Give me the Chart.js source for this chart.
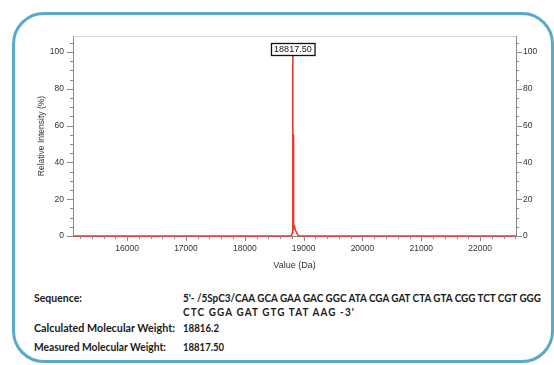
<!DOCTYPE html>
<html>
<head>
<meta charset="utf-8">
<script src="https://cdn.jsdelivr.net/npm/chart.js@4/dist/chart.umd.min.js"></script>
<style>
  html, body { margin: 0; padding: 0; background: #fff; }
  #wrap { position: relative; width: 554px; height: 365px; overflow: hidden; }
  #frame { position: absolute; left: 12px; top: 12px; width: 536px; height: 345px;
           border: 3px solid #5aa9cc; border-radius: 32px; }
  #chartBox { position: absolute; left: 0; top: 0; width: 554px; height: 275px; }
  .info { position: absolute; font-family: Lato, "Open Sans", sans-serif; font-weight: bold;
          font-size: 11.5px; line-height: 14px; color: #1a1a1a; white-space: nowrap;
          transform-origin: 0 50%; }
</style>
</head>
<body>
<div id="wrap">
  <div id="frame"></div>
  <div id="chartBox"><canvas id="spectrum"></canvas></div>
  <div id="info"></div>
</div>
<script>
// Deconvoluted mass spectrum (mass in Da, relative intensity in %)
const massDa    = [15080, 18780, 18800, 18808, 18813, 18817.5, 18819, 18821, 18823, 18826, 18830, 18836, 18845, 18860, 18880, 18910, 22610];
const intensity = [0,     0,     0.5,   2,     12,    100,     58,    42,    55,    28,    6,     4,     5,     3,     2,     0,     0];

const peakMass = 18817.5;
const calcMass = 18816.2;
const sequenceLines = [
  "5'- /5SpC3/CAA GCA GAA GAC GGC ATA CGA GAT CTA GTA CGG TCT CGT GGG",
  "CTC GGA GAT GTG TAT AAG -3'"
];

const xRange = [15080, 22610];
const yRange = [0, 108.7];
const xLabelStep = 1000, xMinorStep = 200;
const yLabelStep = 20,   yMinorStep = 5;

const axisFont = { family: '"Liberation Sans", Arial, sans-serif', size: 8.5 };
const axisColor = '#333';
const lineColor = '#e63a30';

// Small outward tick marks (major + minor) on the three axes, plus the plot's top edge
const tickMarks = {
  id: 'tickMarks',
  afterDatasetsDraw(chart) {
    const { ctx, chartArea } = chart;
    const sx = chart.scales.x, sy = chart.scales.y, sy2 = chart.scales.y2;
    ctx.save();
    ctx.strokeStyle = '#d4d4d4';
    ctx.lineWidth = 1;
    ctx.beginPath();
    ctx.moveTo(chartArea.left, chartArea.top + 0.5);
    ctx.lineTo(chartArea.right, chartArea.top + 0.5);
    ctx.stroke();

    ctx.strokeStyle = '#8a8a8a';
    ctx.beginPath();
    sx.ticks.forEach(t => {
      const px = Math.round(sx.getPixelForValue(t.value)) + 0.5;
      const len = t.value % xLabelStep === 0 ? 5 : 3;
      ctx.moveTo(px, chartArea.bottom);
      ctx.lineTo(px, chartArea.bottom + len);
    });
    sy.ticks.forEach(t => {
      const py = Math.round(sy.getPixelForValue(t.value)) + 0.5;
      const len = t.value % yLabelStep === 0 ? 6 : 3;
      ctx.moveTo(chartArea.left, py);
      ctx.lineTo(chartArea.left - len, py);
    });
    sy2.ticks.forEach(t => {
      const py = Math.round(sy2.getPixelForValue(t.value)) + 0.5;
      const len = t.value % yLabelStep === 0 ? 6 : 3;
      ctx.moveTo(chartArea.right, py);
      ctx.lineTo(chartArea.right + len, py);
    });
    ctx.stroke();
    ctx.restore();
  }
};

// Boxed mass label above the most intense peak
const peakLabel = {
  id: 'peakLabel',
  afterDatasetsDraw(chart) {
    const { ctx } = chart;
    const sx = chart.scales.x, sy = chart.scales.y;
    let top = 0;
    intensity.forEach((v, i) => { if (v > intensity[top]) top = i; });
    const text = massDa[top].toFixed(2);
    const px = sx.getPixelForValue(massDa[top]);
    const py = sy.getPixelForValue(intensity[top]);
    ctx.save();
    ctx.font = '9px "Liberation Sans", Arial, sans-serif';
    const w = ctx.measureText(text).width + 6;
    const h = 12;
    const bx = Math.round(px - w / 2) + 0.5, by = Math.round(py - h + 3) + 0.5;
    ctx.fillStyle = '#fff';
    ctx.fillRect(bx, by, w, h);
    ctx.strokeStyle = '#111';
    ctx.lineWidth = 1.3;
    ctx.strokeRect(bx, by, w, h);
    ctx.fillStyle = '#111';
    ctx.textAlign = 'center';
    ctx.textBaseline = 'middle';
    ctx.fillText(text, px, by + h / 2 + 0.5);
    ctx.restore();
  }
};

const yTicks = (side) => ({
  stepSize: yMinorStep,
  includeBounds: false,
  autoSkip: false,
  font: axisFont,
  color: axisColor,
  padding: side === 'left' ? 9 : 7,
  callback: v => (v % yLabelStep === 0 ? String(v) : '')
});

new Chart(document.getElementById('spectrum'), {
  type: 'line',
  data: {
    datasets: [{
      data: massDa.map((m, i) => ({ x: m, y: intensity[i] })),
      borderColor: lineColor,
      backgroundColor: lineColor,
      borderWidth: 1.6,
      pointRadius: 0,
      tension: 0,
      clip: 4
    }]
  },
  options: {
    responsive: true,
    maintainAspectRatio: false,
    animation: false,
    layout: { padding: { left: 30, right: 0, top: 36, bottom: 0 } },
    plugins: { legend: { display: false }, tooltip: { enabled: false } },
    scales: {
      x: {
        type: 'linear',
        min: xRange[0], max: xRange[1],
        grid: { display: false, drawTicks: false },
        border: { display: true, color: '#8a8a8a' },
        ticks: {
          stepSize: xMinorStep, includeBounds: false, autoSkip: false, maxRotation: 0,
          font: axisFont, color: axisColor, padding: 8,
          callback: v => (v % xLabelStep === 0 ? String(v) : '')
        },
        title: { display: true, text: 'Value (Da)', font: { ...axisFont, size: 9 }, color: axisColor,
                 padding: { top: 0, bottom: 4 } },
        afterFit: s => { s.height = 39; }
      },
      y: {
        position: 'left',
        min: yRange[0], max: yRange[1],
        grid: { display: false, drawTicks: false },
        border: { display: true, color: '#8a8a8a' },
        ticks: yTicks('left'),
        title: { display: true, text: 'Relative Intensity (%)', font: axisFont, color: axisColor,
                 padding: { top: 7, bottom: 0 } },
        afterFit: s => { s.width = 43; }
      },
      y2: {
        position: 'right',
        display: true,
        min: yRange[0], max: yRange[1],
        grid: { display: false, drawTicks: false },
        border: { display: true, color: '#8a8a8a' },
        ticks: yTicks('right'),
        afterFit: s => { s.width = 38; }
      }
    }
  },
  plugins: [tickMarks, peakLabel]
});

// Sample details printed under the spectrum; each line is condensed to its printed width
const info = document.getElementById('info');
function makeLine(text, left, top) {
  const d = document.createElement('div');
  d.className = 'info';
  d.style.left = left + 'px';
  d.style.top = top + 'px';
  d.textContent = text;
  info.appendChild(d);
  return d;
}
function fitTo(d, width) {
  const k = width / d.getBoundingClientRect().width;
  d.style.transform = 'scaleX(' + k.toFixed(3) + ')';
  return k;
}

fitTo(makeLine('Sequence:', 34, 291), 48);
const seq1 = makeLine(sequenceLines[0], 183, 291);
const seqK = fitTo(seq1, 358);
// second sequence line keeps the first line's condensing and is tracked out to its printed width
const seq2 = makeLine(sequenceLines[1], 183, 305);
const natural = seq2.getBoundingClientRect().width;
const spacing = (172 / seqK - natural) / sequenceLines[1].length;
seq2.style.letterSpacing = spacing.toFixed(2) + 'px';
seq2.style.transform = 'scaleX(' + seqK.toFixed(3) + ')';

fitTo(makeLine('Calculated Molecular Weight:', 34, 321), 141);
fitTo(makeLine(calcMass.toFixed(1), 183, 321), 36);
fitTo(makeLine('Measured Molecular Weight:', 34, 339.5), 132);
fitTo(makeLine(peakMass.toFixed(2), 183, 339.5), 41);
</script>
</body>
</html>
